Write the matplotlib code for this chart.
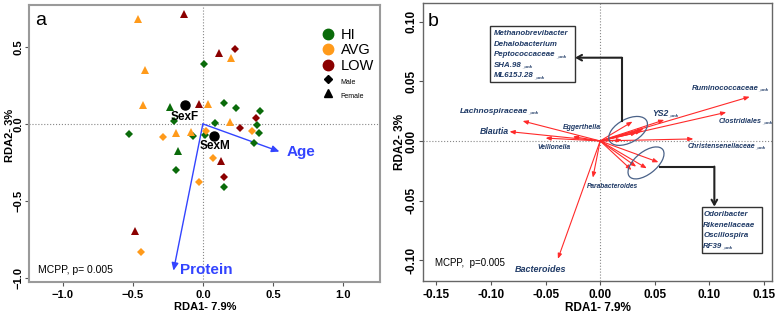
import matplotlib
matplotlib.use("Agg")
import matplotlib.pyplot as plt
from matplotlib.lines import Line2D
from matplotlib.patches import Ellipse

plt.rcParams['font.family'] = ['Liberation Sans', 'DejaVu Sans']

# ---- panel a: samples (RDA1, RDA2) ----
hi_male_x = [0.009, 0.152, 0.238, 0.411, -0.207, 0.088, 0.386, 0.402, -0.529, -0.071, 0.012, 0.366, -0.189, 0.152]
hi_male_y = [0.388, 0.134, 0.102, 0.086, 0.019, 0.009, -0.009, -0.056, -0.065, -0.078, -0.071, -0.125, -0.303, -0.413]
hi_female_x = [-0.234, -0.179]
hi_female_y = [0.112, -0.175]
avg_male_x = [0.350, -0.286, 0.024, 0.071, -0.026, -0.439]
avg_male_y = [-0.045, -0.082, -0.045, -0.225, -0.381, -0.836]
avg_female_x = [-0.467, 0.200, -0.417, -0.431, 0.040, 0.197, -0.189, -0.086]
avg_female_y = [0.686, 0.430, 0.350, 0.123, 0.130, 0.015, -0.056, -0.052]
low_male_x = [0.231, 0.378, 0.266, 0.150]
low_male_y = [0.487, 0.037, -0.028, -0.346]
low_female_x = [-0.134, 0.112, -0.026, 0.133, -0.484]
low_female_y = [0.714, 0.463, 0.130, -0.240, -0.699]

sex_names = ['SexF', 'SexM']
sex_x = [-0.131, 0.081]
sex_y = [0.123, -0.076]

env_names = ['Age', 'Protein']
env_x = [0.547, -0.210]
env_y = [-0.180, -0.955]

# ---- panel b: taxa (RDA1, RDA2) ----
taxa_names = ['Ruminococcaceae', 'Clostridiales', 'YS2', 'Christensenellaceae',
              'Lachnospiraceae', 'Blautia', 'Veillonella', 'Eggerthella',
              'Parabacteroides', 'Bacteroides']
taxa_x = [0.137, 0.1155, 0.0587, 0.0854, -0.071, -0.083, -0.050, -0.025, -0.0067, -0.0387]
taxa_y = [0.037, 0.0240, 0.0176, 0.0017, 0.0167, 0.0078, 0.0024, 0.0036, -0.0307, -0.0987]

upper_names = ['Methanobrevibacter', 'Dehalobacterium', 'Peptococcaceae_unk', 'SHA.98_unk', 'ML615J.28_unk']
upper_x = [0.0296, 0.0397, 0.0380, 0.0336, 0.0200]
upper_y = [0.0162, 0.0100, 0.0084, 0.0070, 0.0008]

lower_names = ['Odoribacter', 'Rikenellaceae', 'Oscillospira', 'RF39_unk']
lower_x = [0.0534, 0.0427, 0.0330, 0.0287]
lower_y = [-0.0178, -0.0229, -0.0215, -0.0243]

GREEN = '#0a6b0a'
ORANGE = '#ff9a1a'
DRED = '#8b0000'
NAVY = '#1f3a66'
BLUE = '#3344ff'
ARED = '#ff2a2a'

fig = plt.figure(figsize=(7.78, 3.15), dpi=100)
ax1 = fig.add_axes([0.0377, 0.1057, 0.4508, 0.878])
ax2 = fig.add_axes([0.5441, 0.1089, 0.4486, 0.8816])


def style_axes(ax, frame_color, lw):
    for s in ax.spines.values():
        s.set_color(frame_color)
        s.set_linewidth(lw)
    ax.tick_params(direction='out', length=3, width=0.8, color='#555555', labelsize=8)
    ax.tick_params(axis='x', pad=3)
    ax.tick_params(axis='y', labelrotation=90, pad=1.5)
    for lbl in ax.get_yticklabels() + ax.get_xticklabels():
        lbl.set_fontweight('bold')
    for lbl in ax.get_yticklabels():
        lbl.set_va('center')
    ax.axhline(0, color='#888888', lw=0.8, ls=':', zorder=0)
    ax.axvline(0, color='#888888', lw=0.8, ls=':', zorder=0)


def add_unk(ax, t):
    ax.annotate('_unk', xy=(1, 0.05), xycoords=t, fontsize=3.2, fontweight='bold',
                style='italic', color=NAVY, ha='left', va='bottom')


# ================= panel a =================
ax1.set_xlim(-1.24, 1.266)
ax1.set_ylim(-1.027, 0.773)
ax1.set_xticks([-1.0, -0.5, 0.0, 0.5, 1.0])
ax1.set_yticks([-1.0, -0.5, 0.0, 0.5])
style_axes(ax1, '#9a9a9a', 1.5)

ms_d, ms_t = 3.6, 5.5
groups = [
    (hi_male_x, hi_male_y, GREEN, 'D', ms_d),
    (hi_female_x, hi_female_y, GREEN, '^', ms_t),
    (avg_male_x, avg_male_y, ORANGE, 'D', ms_d),
    (avg_female_x, avg_female_y, ORANGE, '^', ms_t),
    (low_male_x, low_male_y, DRED, 'D', ms_d),
    (low_female_x, low_female_y, DRED, '^', ms_t),
]
for gx, gy, c, m, ms in groups:
    ax1.plot(gx, gy, ls='none', marker=m, color=c, markersize=ms, mew=0, zorder=3)

ax1.plot(sex_x, sex_y, ls='none', marker='o', color='black', markersize=6.5, zorder=4)
ax1.text(sex_x[0] + 0.002, sex_y[0] - 0.075, sex_names[0], fontsize=8.5,
         fontweight='bold', ha='center', va='center')
ax1.text(sex_x[1] + 0.003, sex_y[1] - 0.065, sex_names[1], fontsize=8.5,
         fontweight='bold', ha='center', va='center')

for ex, ey in zip(env_x, env_y):
    ax1.annotate('', xy=(ex, ey), xytext=(0, 0),
                 arrowprops=dict(arrowstyle='-|>,head_length=0.45,head_width=0.2',
                                 color=BLUE, lw=1.0, shrinkA=0, shrinkB=0), zorder=2)
ax1.text(env_x[0] + 0.055, env_y[0], env_names[0], color=BLUE, fontsize=11,
         fontweight='bold', ha='left', va='center')
ax1.text(env_x[1] + 0.045, env_y[1] + 0.002, env_names[1], color=BLUE, fontsize=11,
         fontweight='bold', ha='left', va='center')

ax1.set_xlabel('RDA1- 7.9%', fontsize=8, fontweight='bold', labelpad=1.5)
ax1.set_ylabel('RDA2- 3%', fontsize=8, fontweight='bold')
ax1.yaxis.set_label_coords(-0.042, 0.53)
ax1.text(0.016, 0.943, 'a', transform=ax1.transAxes, fontsize=14, va='center')
ax1.text(0.026, 0.042, 'MCPP, p= 0.005', transform=ax1.transAxes, fontsize=7.5,
         va='center')

handles = [
    Line2D([], [], ls='none', marker='o', color=GREEN, markersize=7.5),
    Line2D([], [], ls='none', marker='o', color=ORANGE, markersize=7.5),
    Line2D([], [], ls='none', marker='o', color=DRED, markersize=7.5),
    Line2D([], [], ls='none', marker='D', color='black', markersize=4),
    Line2D([], [], ls='none', marker='^', color='black', markersize=6),
]
leg = ax1.legend(handles, ['HI', 'AVG', 'LOW', 'Male', 'Female'], loc='upper right',
                 bbox_to_anchor=(1.012, 0.955), frameon=False, fontsize=10.5,
                 handlelength=0.8, handletextpad=0.5, labelspacing=0.1,
                 borderaxespad=0.3)
for t in leg.get_texts()[3:]:
    t.set_fontsize(5)

# ================= panel b =================
ax2.set_xlim(-0.162, 0.1577)
ax2.set_ylim(-0.117, 0.1155)
ax2.set_xticks([-0.15, -0.10, -0.05, 0.0, 0.05, 0.10, 0.15])
ax2.set_xticklabels(['-0.15', '-0.10', '-0.05', '0.00', '0.05', '0.10', '0.15'])
ax2.set_yticks([-0.10, -0.05, 0.0, 0.05, 0.10])
ax2.set_yticklabels(['-0.10', '-0.05', '0.00', '0.05', '0.10'])
style_axes(ax2, '#666666', 1.0)
for lbl in ax2.get_xticklabels() + ax2.get_yticklabels():
    lbl.set_fontsize(8.5)

arrow_kw = dict(arrowstyle='-|>,head_length=0.3,head_width=0.12', color=ARED,
                lw=0.8, shrinkA=0, shrinkB=0)
for px, py in zip(taxa_x + upper_x + lower_x, taxa_y + upper_y + lower_y):
    ax2.annotate('', xy=(px, py), xytext=(0, 0), arrowprops=arrow_kw, zorder=2)

# label positions (left edge, centre), font size, has _unk suffix
lab_pos = {
    'Ruminococcaceae': (0.0839, 0.0441, 5.5, True),
    'Clostridiales': (0.1089, 0.0162, 5.1, True),
    'YS2': (0.0473, 0.0232, 6.2, True),
    'Christensenellaceae': (0.0799, -0.0048, 5.0, True),
    'Lachnospiraceae': (-0.1281, 0.0245, 6.0, True),
    'Blautia': (-0.1098, 0.0078, 6.3, False),
    'Veillonella': (-0.0579, -0.0053, 4.9, False),
    'Eggerthella': (-0.0341, 0.0111, 5.0, False),
    'Parabacteroides': (-0.0122, -0.0382, 4.8, False),
    'Bacteroides': (-0.0778, -0.1074, 6.5, False),
}
for name in taxa_names:
    lx, ly, fs, unk = lab_pos[name]
    t = ax2.text(lx, ly, name, fontsize=fs, fontweight='bold', style='italic',
                 color=NAVY, ha='left', va='center')
    if unk:
        add_unk(ax2, t)

ax2.add_patch(Ellipse((0.0256, 0.0084), 0.038, 0.020, angle=25, fill=False,
                      ec='#4a6288', lw=0.9, zorder=3))
ax2.add_patch(Ellipse((0.0420, -0.0184), 0.038, 0.019, angle=35, fill=False,
                      ec='#4a6288', lw=0.9, zorder=3))

# upper box
ax2.add_patch(plt.Rectangle((-0.1006, 0.0491), 0.0776, 0.0471, fill=False,
                            ec='#333333', lw=1.0, zorder=3))
for i, name in enumerate(upper_names):
    yy = 0.0897 - i * 0.0088
    base = name.replace('_unk', '')
    t = ax2.text(-0.0970, yy, base, fontsize=5.7, fontweight='bold', style='italic',
                 color=NAVY, ha='left', va='center')
    if name.endswith('_unk'):
        add_unk(ax2, t)
ax2.plot([0.0198, 0.0198], [0.0165, 0.0697], color='#222222', lw=1.5, zorder=3)
ax2.annotate('', xy=(-0.0230, 0.0697), xytext=(0.0198, 0.0697),
             arrowprops=dict(arrowstyle='->,head_length=0.35,head_width=0.2',
                             color='#222222', lw=1.5, shrinkA=0, shrinkB=0), zorder=3)

# lower box
ax2.add_patch(plt.Rectangle((0.0930, -0.0940), 0.0550, 0.0390, fill=False,
                            ec='#333333', lw=1.0, zorder=3))
for i, name in enumerate(lower_names):
    yy = -0.0619 - i * 0.0088
    base = name.replace('_unk', '')
    t = ax2.text(0.0945, yy, base, fontsize=5.7, fontweight='bold', style='italic',
                 color=NAVY, ha='left', va='center')
    if name.endswith('_unk'):
        add_unk(ax2, t)
ax2.plot([0.0549, 0.1046], [-0.0215, -0.0215], color='#222222', lw=1.5, zorder=3)
ax2.annotate('', xy=(0.1046, -0.0550), xytext=(0.1046, -0.0215),
             arrowprops=dict(arrowstyle='->,head_length=0.35,head_width=0.2',
                             color='#222222', lw=1.5, shrinkA=0, shrinkB=0), zorder=3)

ax2.set_xlabel('RDA1- 7.9%', fontsize=8.5, fontweight='bold', labelpad=1)
ax2.set_ylabel('RDA2- 3%', fontsize=8.5, fontweight='bold')
ax2.yaxis.set_label_coords(-0.05, 0.5)
ax2.text(0.013, 0.935, 'b', transform=ax2.transAxes, fontsize=14, va='center')
ax2.text(0.033, 0.062, 'MCPP,  p=0.005', transform=ax2.transAxes, fontsize=7,
         va='center')

fig.savefig('out.png', dpi=100)
